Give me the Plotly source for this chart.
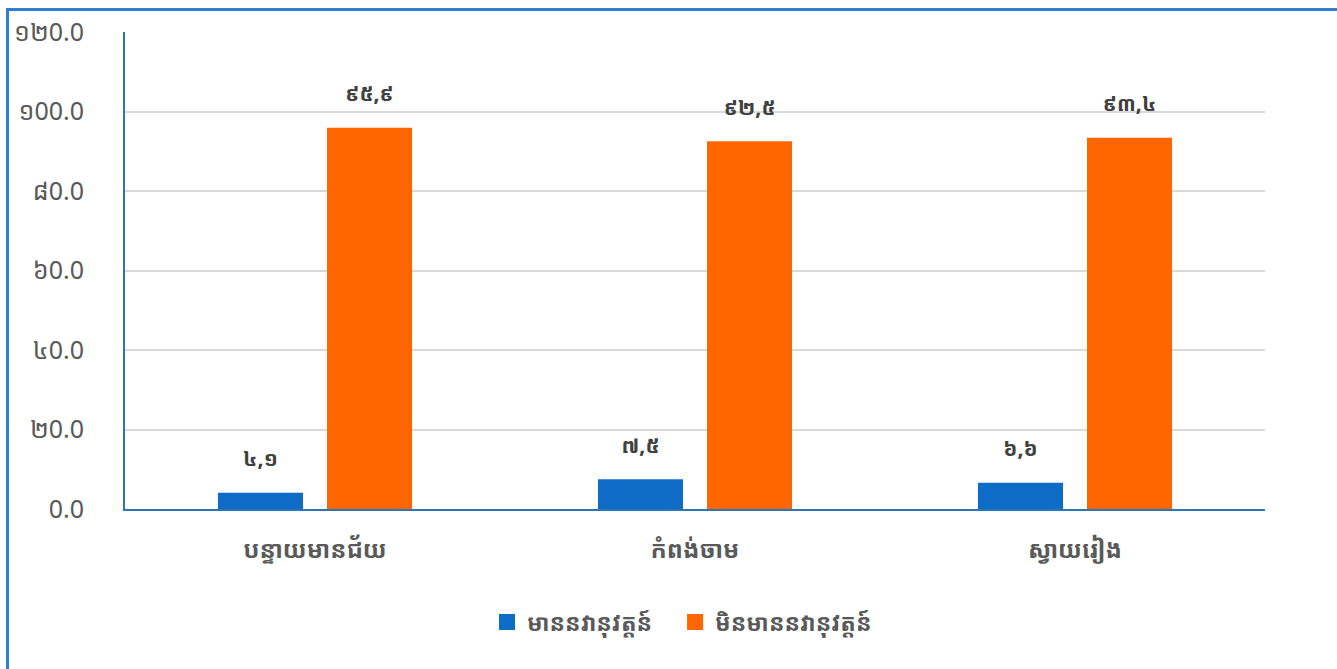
import plotly.graph_objects as go

categories = ["បន្ទាយមានជ័យ", "កំពង់ចាម", "ស្វាយរៀង"]
series_names = ["មាននវានុវត្តន៍", "មិនមាននវានុវត្តន៍"]
with_innov = [4.1, 7.5, 6.6]
without_innov = [95.9, 92.5, 93.4]
with_labels = ["៤,១", "៧,៥", "៦,៦"]
without_labels = ["៩៥,៩", "៩២,៥", "៩៣,៤"]
tick_vals = [0, 20, 40, 60, 80, 100, 120]
tick_text = ["0.0", "២0.0", "៤0.0", "៦0.0", "៨0.0", "១00.0", "១២0.0"]

FONT = "Noto Sans Khmer, Noto Sans, DejaVu Sans, sans-serif"
BLUE = "#0f6cc6"
ORANGE = "#ff6600"
LABEL_COLOR = "#404040"
TEXT_COLOR = "#595959"
LEGEND_PAD = ["\u00a0" * 3, ""]

def bar_label(t):
    return "<b><span style='font-size:21px'>" + t + "</span></b><br> "

fig = go.Figure()
for i, (vals, labels, color) in enumerate([(with_innov, with_labels, BLUE),
                                            (without_innov, without_labels, ORANGE)]):
    fig.add_trace(go.Bar(
        x=categories, y=vals, name=series_names[i], showlegend=False,
        marker=dict(color=color, line=dict(width=0)),
        text=[bar_label(t) for t in labels], textposition="outside",
        textfont=dict(family=FONT, size=15, color=LABEL_COLOR),
        cliponaxis=False, hoverinfo="skip",
    ))
    # legend entry with a larger square swatch
    fig.add_trace(go.Scatter(
        x=[None], y=[None], mode="markers",
        name="<b>" + series_names[i] + "</b>" + LEGEND_PAD[i],
        marker=dict(symbol="square", size=21, color=color),
        hoverinfo="skip",
    ))

W, H = 1337, 669
plot_left, plot_right, plot_top, plot_bottom = 125, 1265, 32, 509
ml, mt = plot_left, plot_top
mr, mb = W - plot_right, H - plot_bottom
pw, ph = plot_right - plot_left, plot_bottom - plot_top

def px_x(p):
    return (p - plot_left) / pw

def px_y(p):
    return (plot_bottom - p) / ph

fig.update_layout(
    width=W, height=H,
    margin=dict(l=ml, r=mr, t=mt, b=mb),
    paper_bgcolor="white", plot_bgcolor="white",
    barmode="group", bargap=0.426, bargroupgap=0.22,
    hovermode=False,
    font=dict(family=FONT, color=TEXT_COLOR),
    showlegend=True,
    legend=dict(orientation="h", x=px_x(682), xanchor="center", y=px_y(622), yanchor="middle",
                font=dict(family=FONT, size=23, color=TEXT_COLOR),
                traceorder="normal", itemsizing="trace", tracegroupgap=0),
    xaxis=dict(showline=True, linecolor="#2e75b6", linewidth=2,
               tickfont=dict(family=FONT, size=24, color=TEXT_COLOR),
               ticks="", showgrid=False, ticklabelstandoff=18,
               tickvals=categories, ticktext=["<b>" + c + "</b>" for c in categories]),
    yaxis=dict(range=[0, 120], tickvals=tick_vals, ticktext=tick_text,
               showline=True, linecolor="#2e75b6", linewidth=2,
               showgrid=True, gridcolor="#d9d9d9", gridwidth=2,
               tickfont=dict(family=FONT, size=25, color=TEXT_COLOR),
               ticks="", ticklabelstandoff=34, zeroline=False),
    shapes=[dict(type="rect", xref="paper", yref="paper",
                 x0=px_x(7.5), x1=px_x(1360), y0=px_y(9.5), y1=px_y(700),
                 line=dict(color="#2f7fd0", width=3), fillcolor="rgba(0,0,0,0)",
                 layer="below")],
)

fig.write_html("out.html",
               config={"displayModeBar": False, "staticPlot": True},
               post_script="document.body.style.margin='0';document.body.style.overflow='hidden';")
